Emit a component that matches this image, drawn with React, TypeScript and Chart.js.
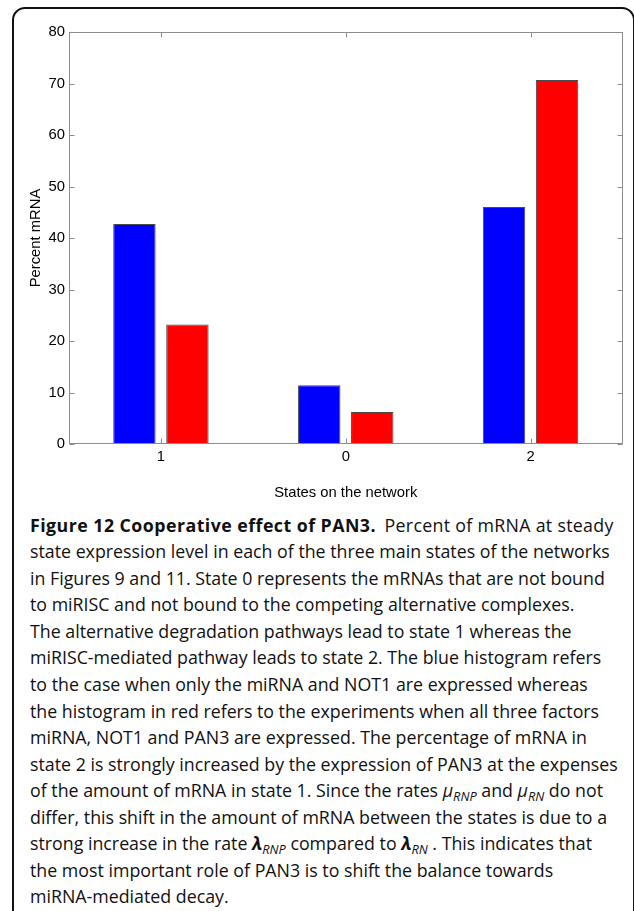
import React, { useEffect, useRef } from "react";
import { Chart, registerables } from "chart.js";

Chart.register(...registerables);

const categories = ["1", "0", "2"];
const blueValues = [42.7, 11.4, 46.0];
const redValues = [23.2, 6.2, 70.7];
const yTickMin = 0;
const yTickMax = 80;
const yTickStep = 10;
const xTitle = "States on the network";
const yTitle = "Percent mRNA";

const CANVAS_W = 634;
const CANVAS_H = 510;
const FONT = "'Liberation Sans', Arial, sans-serif";

const axesBox = {
  id: "axesBox",
  afterDatasetsDraw(chart: any) {
    const { ctx, chartArea, scales } = chart;
    const { left, right, top, bottom } = chartArea;
    const x = scales.x;
    const y = scales.y;
    const L = Math.round(left) + 0.5;
    const R = Math.round(right) - 0.5;
    const T = Math.round(top) + 0.5;
    const B = Math.round(bottom) - 0.5;
    ctx.save();
    ctx.strokeStyle = "#8c8c8c";
    ctx.lineWidth = 1;
    ctx.strokeRect(L, T, R - L, B - T);
    ctx.beginPath();
    const tl = 5;
    y.ticks.forEach((_t: any, i: number) => {
      const py = Math.round(y.getPixelForTick(i)) + 0.5;
      ctx.moveTo(L, py);
      ctx.lineTo(L + tl, py);
      ctx.moveTo(R, py);
      ctx.lineTo(R - tl, py);
    });
    x.ticks.forEach((_t: any, i: number) => {
      const px = Math.round(x.getPixelForTick(i)) + 0.5;
      ctx.moveTo(px, B);
      ctx.lineTo(px, B - tl);
      ctx.moveTo(px, T);
      ctx.lineTo(px, T + tl);
    });
    ctx.stroke();
    ctx.restore();
  },
};

function BarChart() {
  const ref = useRef<HTMLCanvasElement | null>(null);
  useEffect(() => {
    if (!ref.current) return;
    const chart = new Chart(ref.current, {
      type: "bar",
      data: {
        labels: categories,
        datasets: [
          {
            label: "miRNA + NOT1",
            data: blueValues,
            backgroundColor: "#0000ff",
            borderColor: "#4a4a4a",
            borderWidth: 1,
            categoryPercentage: 0.5735,
            barPercentage: 0.8,
          },
          {
            label: "miRNA + NOT1 + PAN3",
            data: redValues,
            backgroundColor: "#ff0000",
            borderColor: "#4a4a4a",
            borderWidth: 1,
            categoryPercentage: 0.5735,
            barPercentage: 0.8,
          },
        ],
      },
      options: {
        animation: false,
        responsive: false,
        maintainAspectRatio: false,
        layout: { padding: { left: 0, right: 11, top: 32, bottom: 0 } },
        plugins: {
          legend: { display: false },
          tooltip: { enabled: false },
        },
        scales: {
          x: {
            grid: { display: false, drawTicks: false },
            border: { display: false },
            ticks: {
              color: "#000",
              padding: 4,
              font: { family: FONT, size: 14.8 },
            },
            title: {
              display: true,
              text: xTitle,
              color: "#000",
              font: { family: FONT, size: 14.8 },
              padding: { top: 0, bottom: 8.2 },
            },
            afterFit: (s: any) => {
              s.height = CANVAS_H - 444;
            },
          },
          y: {
            min: yTickMin,
            max: yTickMax,
            grid: { display: false, drawTicks: false },
            border: { display: false },
            ticks: {
              stepSize: yTickStep,
              color: "#000",
              padding: 3.5,
              font: { family: FONT, size: 14.8 },
            },
            title: {
              display: true,
              text: yTitle,
              color: "#000",
              font: { family: FONT, size: 14.8 },
              padding: { top: 27, bottom: 0 },
            },
            afterFit: (s: any) => {
              s.width = 68.5;
            },
          },
        },
      },
      plugins: [axesBox],
    });
    return () => chart.destroy();
  }, []);
  return (
    <canvas
      ref={ref}
      width={CANVAS_W}
      height={CANVAS_H}
      style={{ position: "absolute", left: 0, top: 0, width: CANVAS_W, height: CANVAS_H }}
    />
  );
}

const sub: React.CSSProperties = {
  fontSize: "0.72em",
  lineHeight: 0,
  verticalAlign: "-0.28em",
  fontStyle: "italic",
};

export default function App() {
  const lineStyle: React.CSSProperties = { whiteSpace: "nowrap" };
  const lines: React.ReactNode[] = [
    <>
      <b style={{ letterSpacing: "0.45px", marginRight: 4 }}>Figure 12 Cooperative effect of PAN3.</b>{" "}
      <span style={{ letterSpacing: "0.3px" }}>Percent of mRNA at steady</span>
    </>,
    <>state expression level in each of the three main states of the networks</>,
    <>in Figures 9 and 11. State 0 represents the mRNAs that are not bound</>,
    <>to miRISC and not bound to the competing alternative complexes.</>,
    <>The alternative degradation pathways lead to state 1 whereas the</>,
    <>miRISC-mediated pathway leads to state 2. The blue histogram refers</>,
    <>to the case when only the miRNA and NOT1 are expressed whereas</>,
    <>the histogram in red refers to the experiments when all three factors</>,
    <>miRNA, NOT1 and PAN3 are expressed. The percentage of mRNA in</>,
    <>state 2 is strongly increased by the expression of PAN3 at the expenses</>,
    <>
      of the amount of mRNA in state 1. Since the rates <i>μ</i>
      <span style={sub}>RNP</span> and <i>μ</i>
      <span style={sub}>RN</span> do not
    </>,
    <>differ, this shift in the amount of mRNA between the states is due to a</>,
    <>
      strong increase in the rate{" "}
      <b>
        <i>λ</i>
      </b>
      <span style={sub}>RNP</span> compared to{" "}
      <b>
        <i>λ</i>
      </b>
      <span style={sub}>RN</span> . This indicates that
    </>,
    <>the most important role of PAN3 is to shift the balance towards</>,
    <>miRNA-mediated decay.</>,
  ];
  return (
    <div
      style={{
        position: "fixed",
        left: 0,
        top: 0,
        width: 634,
        height: 911,
        overflow: "hidden",
        background: "#fff",
      }}
    >
      <div
        style={{
          position: "absolute",
          left: 12,
          top: 7,
          width: 623,
          height: 1100,
          boxSizing: "border-box",
          border: "2px solid #111",
          borderRadius: 13,
        }}
      />
      <BarChart />
      <div
        style={{
          position: "absolute",
          left: 30,
          top: 511.7,
          fontFamily: "'Open Sans', sans-serif",
          fontSize: 17.8,
          lineHeight: "26.55px",
          color: "#111",
        }}
      >
        {lines.map((l, i) => (
          <div key={i} style={lineStyle}>
            {l}
          </div>
        ))}
      </div>
    </div>
  );
}
